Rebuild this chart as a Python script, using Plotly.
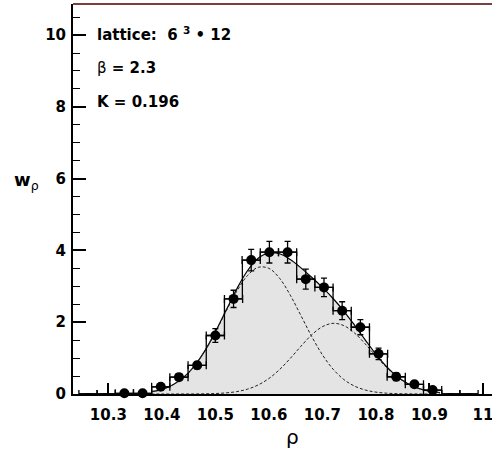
import numpy as np
import plotly.graph_objects as go

# Histogram of the plaquette-like observable rho (bin centres, weights, errors)
bin_centers = [10.262, 10.296, 10.330, 10.364, 10.398, 10.432, 10.466, 10.500,
               10.534, 10.567, 10.601, 10.635, 10.669, 10.703, 10.737, 10.771,
               10.805, 10.838, 10.872, 10.906, 10.940, 10.974]
weights = [0.00, 0.00, 0.02, 0.02, 0.20, 0.47, 0.80, 1.63,
           2.65, 3.73, 3.95, 3.95, 3.20, 2.97, 2.32, 1.86,
           1.12, 0.48, 0.27, 0.11, 0.00, 0.00]
weight_err = [0.00, 0.00, 0.01, 0.01, 0.05, 0.07, 0.10, 0.19,
              0.24, 0.30, 0.30, 0.30, 0.28, 0.26, 0.25, 0.21,
              0.16, 0.11, 0.08, 0.07, 0.00, 0.00]

# Two-peak fit: total and the two components, sampled over the fit range
fit_x = [10.38, 10.40, 10.42, 10.44, 10.46, 10.48, 10.50, 10.52, 10.54, 10.56,
         10.58, 10.60, 10.62, 10.64, 10.66, 10.68, 10.70, 10.72, 10.74, 10.76,
         10.78, 10.80, 10.82, 10.84, 10.86, 10.88, 10.90, 10.92]
fit_total = [0.061, 0.129, 0.251, 0.456, 0.765, 1.193, 1.730, 2.331, 2.927, 3.433,
             3.781, 3.933, 3.906, 3.746, 3.514, 3.251, 2.969, 2.661, 2.312, 1.921,
             1.510, 1.111, 0.762, 0.485, 0.286, 0.155, 0.078, 0.036]
fit_peak1 = [0.061, 0.129, 0.251, 0.455, 0.763, 1.188, 1.717, 2.300, 2.860, 3.298,
             3.529, 3.502, 3.225, 2.754, 2.183, 1.605, 1.094, 0.692, 0.406, 0.221,
             0.112, 0.052, 0.023, 0.009, 0.004, 0.001, 0.000, 0.000]
fit_peak2 = [0.000, 0.000, 0.000, 0.001, 0.002, 0.005, 0.013, 0.031, 0.067, 0.135,
             0.252, 0.431, 0.681, 0.992, 1.331, 1.646, 1.875, 1.969, 1.906, 1.700,
             1.398, 1.059, 0.739, 0.476, 0.282, 0.154, 0.078, 0.036]

x_ticks = [10.3, 10.4, 10.5, 10.6, 10.7, 10.8, 10.9, 11.0]
x_tick_text = ["10.3", "10.4", "10.5", "10.6", "10.7", "10.8", "10.9", "11"]
y_ticks = [0, 2, 4, 6, 8, 10]

centers = np.array(bin_centers)
vals = np.array(weights)
half_w = np.median(np.diff(centers)) / 2.0
edges = np.concatenate([[centers[0] - half_w], (centers[:-1] + centers[1:]) / 2.0,
                        [centers[-1] + half_w]])
step_y = np.concatenate([vals, [vals[-1]]])

fig = go.Figure()

# shaded area under the total fit
fig.add_trace(go.Scatter(
    x=fit_x, y=fit_total, mode="lines", line=dict(color="black", width=1.2, shape="spline"),
    fill="tozeroy", fillcolor="#e4e4e4", hoverinfo="skip", showlegend=False))

# individual components
for comp in (fit_peak1, fit_peak2):
    fig.add_trace(go.Scatter(
        x=fit_x, y=comp, mode="lines",
        line=dict(color="#222222", width=1, dash="3px,2px", shape="spline"),
        hoverinfo="skip", showlegend=False))

# step outline of the histogram
fig.add_trace(go.Scatter(
    x=edges, y=step_y, mode="lines", line=dict(color="black", width=1.3, shape="hv"),
    hoverinfo="skip", showlegend=False))

# data points with errors
sizes = [10 if v > 0 else 0 for v in weights]
fig.add_trace(go.Scatter(
    x=bin_centers, y=weights, mode="markers",
    marker=dict(color="black", size=sizes, opacity=1, line=dict(width=0)),
    error_y=dict(type="data", array=weight_err, color="black", thickness=1.3, width=3),
    error_x=dict(type="constant", value=half_w, color="black", thickness=1.3, width=4),
    cliponaxis=False, showlegend=False))

bold = dict(family="DejaVu Sans", size=15, color="black", weight="bold")

fig.update_layout(
    width=492, height=452,
    margin=dict(l=73, r=0, t=4, b=58),
    paper_bgcolor="white", plot_bgcolor="white",
    xaxis=dict(range=[10.234, 11.017], showgrid=False, zeroline=False,
               showline=True, linecolor="black", linewidth=2,
               ticks="inside", ticklen=11, tickwidth=1.5, tickcolor="black",
               tickvals=x_ticks, ticktext=x_tick_text, tickfont=bold,
               ticklabelstandoff=6, ticklabeloverflow="allow", layer="below traces"),
    yaxis=dict(range=[0, 10.865], showgrid=False, zeroline=False,
               showline=True, linecolor="black", linewidth=2,
               ticks="inside", ticklen=13, tickwidth=1.5, tickcolor="black",
               tickvals=y_ticks, tickfont=bold, ticklabelstandoff=2,
               minor=dict(dtick=0.5, ticks="inside", ticklen=7, tickwidth=1.3,
                          tickcolor="black", showgrid=False)),
)

# top frame line
fig.add_shape(type="line", xref="paper", yref="paper", x0=0, x1=1, y0=1, y1=1,
              line=dict(color="#7a4040", width=2))

ann_font = dict(family="DejaVu Sans", size=15, color="black")
fig.add_annotation(xref="paper", yref="paper", x=0.052, y=0.924, xanchor="left",
                   yanchor="middle", showarrow=False, font=ann_font,
                   text="<b>lattice:  6 <sup>3</sup> • 12</b>")
fig.add_annotation(xref="paper", yref="paper", x=0.052, y=0.835, xanchor="left",
                   yanchor="middle", showarrow=False, font=ann_font,
                   text="β<b> = 2.3</b>")
fig.add_annotation(xref="paper", yref="paper", x=0.052, y=0.748, xanchor="left",
                   yanchor="middle", showarrow=False, font=ann_font,
                   text="<b>K = 0.196</b>")

# axis titles
fig.add_annotation(xref="paper", yref="paper", x=0.525, y=-0.110, xanchor="center",
                   yanchor="middle", showarrow=False,
                   font=dict(family="DejaVu Sans", size=20, color="black"), text="ρ")
fig.add_annotation(xref="paper", yref="paper", x=-0.146, y=0.545, xanchor="left",
                   yanchor="middle", showarrow=False,
                   font=dict(family="DejaVu Sans", size=18, color="black"),
                   text="<b>w</b><sub>ρ</sub>")

fig.write_html("out.html")
